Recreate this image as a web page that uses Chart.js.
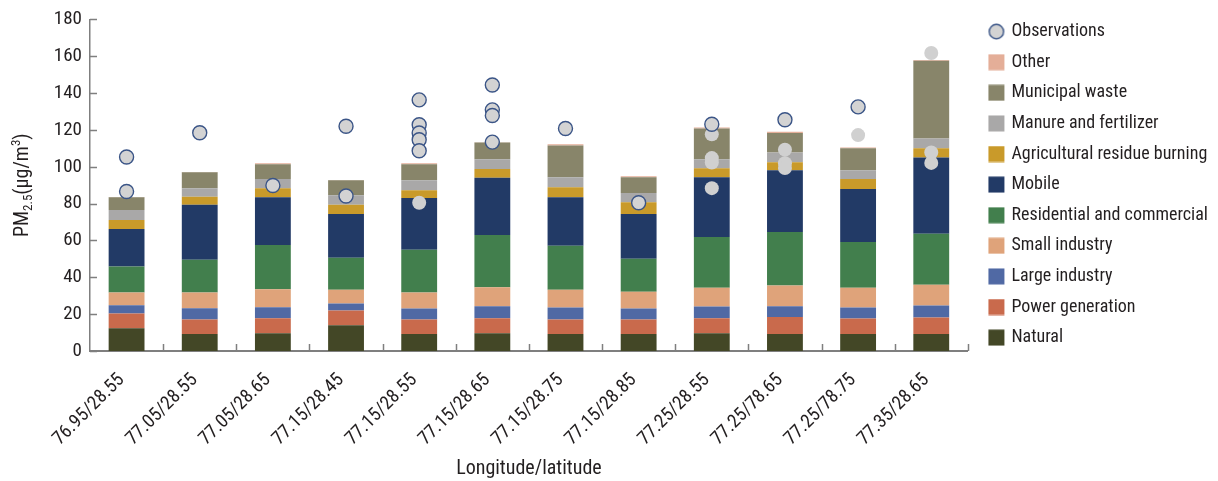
<!DOCTYPE html>
<html>
<head>
<meta charset="utf-8">
<script src="https://cdn.jsdelivr.net/npm/chart.js@4.4.1/dist/chart.umd.min.js"></script>
<style>
  html, body { margin: 0; padding: 0; background: #ffffff; }
  canvas { display: block; }
</style>
</head>
<body>
<canvas id="chart" width="1218" height="481"></canvas>
<script>
// Grid cells (longitude/latitude)
const categories = ['76.95/28.55', '77.05/28.55', '77.05/28.65', '77.15/28.45', '77.15/28.55', '77.15/28.65',
                    '77.15/28.75', '77.15/28.85', '77.25/28.55', '77.25/78.65', '77.25/78.75', '77.35/28.65'];

// Source contributions to PM2.5 (µg/m³), bottom of the stack first
const natural     = [12.3, 9.2, 9.7, 14.0, 9.2, 9.7, 9.2, 9.2, 9.7, 9.2, 9.2, 9.2];
const power       = [8.0, 7.9, 8.1, 8.0, 7.9, 8.1, 7.9, 7.9, 8.1, 9.2, 8.5, 9.0];
const largeInd    = [4.5, 6.1, 6.0, 3.8, 6.0, 6.5, 6.5, 6.0, 6.3, 5.9, 5.9, 6.5];
const smallInd    = [6.9, 8.5, 9.7, 7.5, 8.6, 10.3, 9.7, 9.1, 10.3, 11.2, 10.8, 11.3];
const residential = [14.2, 17.8, 24.1, 17.3, 23.2, 28.4, 23.8, 17.9, 27.5, 29.1, 24.8, 27.6];
const mobile      = [20.3, 29.9, 25.9, 23.8, 28.1, 31.0, 26.4, 24.3, 32.4, 33.5, 28.7, 41.5];
const agriBurning = [4.9, 4.3, 4.9, 5.0, 4.3, 4.8, 5.4, 6.4, 4.9, 4.3, 5.4, 4.9];
const manure      = [5.4, 4.7, 5.0, 5.2, 5.4, 5.3, 5.4, 4.9, 4.9, 5.4, 4.8, 5.4];
const municipal   = [7.0, 8.6, 8.0, 8.1, 8.7, 9.1, 17.3, 8.6, 16.7, 10.6, 11.9, 42.1];
const other       = [0.1, 0.1, 0.5, 0.1, 0.5, 0.1, 0.6, 0.6, 0.5, 0.6, 0.5, 0.5];

// Station observations: grid-cell index and measured value
const obsSite  = [0, 0, 1, 2, 3, 3, 4, 4, 4, 4, 4, 5, 5, 5, 5, 6, 7, 8, 9, 10];
const obsValue = [105.3, 86.6, 118.5, 89.8, 122.0, 84.1, 136.3, 122.8, 118.3, 114.7, 108.7,
                  144.4, 130.9, 127.8, 113.4, 120.8, 80.5, 123.1, 125.5, 132.5];
// Observations shown without outline
const obsPlainSite  = [4, 8, 8, 8, 8, 9, 9, 9, 10, 11, 11, 11];
const obsPlainValue = [80.5, 117.6, 104.7, 102.3, 88.4, 109.3, 101.9, 99.3, 117.2, 161.8, 107.8, 102.1];

const yTicks = { min: 0, max: 180, step: 20 };

const FONT = "'Liberation Sans Narrow', 'Roboto Condensed', 'Liberation Sans', sans-serif";
const TEXT = '#231f20';
const AXIS = '#7f7f7f';

const sources = [
  { label: 'Natural',                      data: natural,     color: '#434726' },
  { label: 'Power generation',             data: power,       color: '#c96a4c' },
  { label: 'Large industry',               data: largeInd,    color: '#5069a4' },
  { label: 'Small industry',               data: smallInd,    color: '#dfa37a' },
  { label: 'Residential and commercial',   data: residential, color: '#427f4d' },
  { label: 'Mobile',                       data: mobile,      color: '#223a66' },
  { label: 'Agricultural residue burning', data: agriBurning, color: '#c99a2a' },
  { label: 'Manure and fertilizer',        data: manure,      color: '#a9a8a8' },
  { label: 'Municipal waste',              data: municipal,   color: '#88856a' },
  { label: 'Other',                        data: other,       color: '#e4ae98' }
];

const toPoints = (sites, values) => sites.map((s, i) => ({ x: categories[s], y: values[i] }));

// Legend symbols: a 16px square or circle set to the right of a small margin
const ICON_W = 28, ICON_H = 17, ICON_X = 11;
function legendIcon(kind, fill, stroke) {
  const c = document.createElement('canvas');
  c.width = ICON_W; c.height = ICON_H;
  const g = c.getContext('2d');
  if (kind === 'circle') {
    g.beginPath();
    g.arc(ICON_X + 8, 8.5, 7.2, 0, Math.PI * 2);
    g.fillStyle = fill;
    g.fill();
    g.lineWidth = 1.4;
    g.strokeStyle = stroke;
    g.stroke();
  } else {
    g.fillStyle = fill;
    g.fillRect(ICON_X, 0.5, 16, 16);
  }
  return c;
}

const datasets = [
  {
    type: 'line', label: 'Observations', data: toPoints(obsSite, obsValue),
    yAxisID: 'yObs', showLine: false,
    pointRadius: 7, pointHoverRadius: 7,
    pointBackgroundColor: '#d3d3d3', pointBorderColor: '#3b5587', pointBorderWidth: 1.4,
    backgroundColor: '#d3d3d3', borderColor: '#3b5587'
  },
  {
    type: 'line', label: 'Observations (no outline)', data: toPoints(obsPlainSite, obsPlainValue),
    yAxisID: 'yObs', showLine: false,
    pointRadius: 7, pointHoverRadius: 7,
    pointBackgroundColor: '#d0d0d0', pointBorderWidth: 0,
    backgroundColor: '#d0d0d0', borderColor: '#d0d0d0'
  },
  ...sources.map(s => ({
    type: 'bar', label: s.label, data: s.data,
    backgroundColor: s.color, borderWidth: 0,
    stack: 'sources', yAxisID: 'y', barPercentage: 0.49, categoryPercentage: 1
  }))
];

// Inward tick marks and axis titles
const axisDecor = {
  id: 'axisDecor',
  afterDraw(chart) {
    const { ctx, chartArea: a, scales: { x, y } } = chart;
    ctx.save();
    ctx.strokeStyle = AXIS;
    ctx.lineWidth = 1.5;
    y.ticks.forEach(t => {
      const py = Math.round(y.getPixelForValue(t.value)) + 0.5;
      ctx.beginPath(); ctx.moveTo(a.left, py); ctx.lineTo(a.left + 7, py); ctx.stroke();
    });
    const n = categories.length;
    const half = (x.getPixelForValue(1) - x.getPixelForValue(0)) / 2;
    for (let i = 0; i < n; i++) {
      const px = Math.round(x.getPixelForValue(i) + half) + 0.5;
      ctx.beginPath(); ctx.moveTo(px, a.bottom); ctx.lineTo(px, a.bottom - 7); ctx.stroke();
    }

    ctx.fillStyle = TEXT;
    // x title
    ctx.font = '20px ' + FONT;
    ctx.textAlign = 'center';
    ctx.textBaseline = 'alphabetic';
    ctx.fillText('Longitude/latitude', (a.left + a.right) / 2, 474);

    // y title: PM2.5(µg/m3) with subscript and superscript
    const parts = [
      { t: 'PM', size: 20, dy: 0 },
      { t: '2.5', size: 13, dy: 4 },
      { t: '(\u03bcg/m', size: 20, dy: 0 },
      { t: '3', size: 13, dy: -8 },
      { t: ')', size: 20, dy: 0 }
    ];
    let total = 0;
    parts.forEach(p => { ctx.font = p.size + 'px ' + FONT; p.w = ctx.measureText(p.t).width; total += p.w; });
    ctx.translate(21, (a.top + a.bottom) / 2);
    ctx.rotate(-Math.PI / 2);
    ctx.textAlign = 'left';
    let cx = -total / 2;
    parts.forEach(p => {
      ctx.font = p.size + 'px ' + FONT;
      ctx.fillText(p.t, cx, 7 + p.dy);
      cx += p.w;
    });
    ctx.restore();
  }
};

new Chart(document.getElementById('chart'), {
  data: { labels: categories, datasets },
  options: {
    responsive: false,
    animation: false,
    devicePixelRatio: 1,
    layout: { padding: { top: 10, left: 0, right: 0, bottom: 0 } },
    plugins: {
      tooltip: { enabled: false },
      legend: {
        position: 'right',
        align: 'start',
        labels: {
          usePointStyle: true,
          pointStyleWidth: 22,
          boxWidth: 16, boxHeight: 16,
          padding: 12.6,
          color: TEXT,
          font: { family: FONT, size: 18 },
          filter: item => item.datasetIndex !== 1,
          sort: (a, b) => {
            const k = i => (i.datasetIndex === 0 ? -100 : -i.datasetIndex);
            return k(a) - k(b);
          },
          generateLabels: chart => {
            const items = Chart.defaults.plugins.legend.labels.generateLabels(chart);
            items.forEach(it => {
              const ds = chart.data.datasets[it.datasetIndex];
              it.pointStyle = it.datasetIndex === 0
                ? legendIcon('circle', '#d3d3d3', '#3b5587')
                : legendIcon('rect', ds.backgroundColor);
              it.lineWidth = 0;
            });
            return items;
          }
        }
      }
    },
    scales: {
      x: {
        type: 'category',
        offset: true,
        grid: { display: false, drawTicks: false },
        border: { display: true, color: AXIS, width: 2 },
        ticks: {
          autoSkip: false, maxRotation: 45, minRotation: 45, padding: 18, labelOffset: -5,
          color: TEXT, font: { family: FONT, size: 19 }
        },
        afterFit: s => { s.height = 130; }
      },
      xTop: {
        type: 'category',
        position: 'top',
        display: true,
        grid: { display: false, drawTicks: false },
        border: { display: false },
        ticks: { display: false },
        afterFit: s => { s.height = 7; }
      },
      y: {
        stacked: true,
        min: yTicks.min, max: yTicks.max,
        grid: { display: false, drawTicks: false },
        border: { display: true, color: AXIS, width: 1.5 },
        ticks: { stepSize: yTicks.step, padding: 8, color: TEXT, font: { family: FONT, size: 19 } },
        afterFit: s => { s.width = 90; }
      },
      yObs: {
        position: 'right',
        min: yTicks.min, max: yTicks.max,
        display: false
      }
    }
  },
  plugins: [axisDecor]
});
</script>
</body>
</html>
